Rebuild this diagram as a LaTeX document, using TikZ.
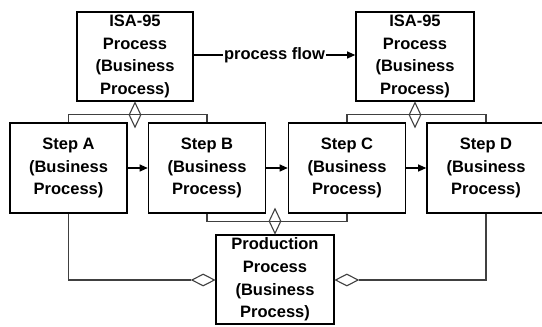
\documentclass[tikz,border=0pt]{standalone}
\usepackage{fontspec}
\setmainfont{Liberation Sans}
\usetikzlibrary{shapes.geometric,arrows.meta}
\tikzset{
  box/.style={draw=black, line width=1.6pt, fill=white, inner sep=0pt,
    minimum width=117pt, minimum height=89pt, align=center,
    font=\bfseries\fontsize{16.5}{22.7}\selectfont},
  conn/.style={draw=black!75, line width=1.1pt},
  flow/.style={draw=black, line width=1.1pt, -{Triangle[length=8pt,width=7pt]}},
  agg/.style={diamond, draw=black!75, line width=1.1pt, inner sep=0pt},
  vagg/.style={agg, minimum width=12pt, minimum height=25pt},
  hagg/.style={agg, minimum width=23pt, minimum height=12pt, fill=white},
  lbl/.style={fill=white, inner sep=1pt, font=\bfseries\fontsize{16.5}{20}\selectfont}
}
\begin{document}
\begin{tikzpicture}[x=1pt,y=1pt]
\useasboundingbox (0,0) rectangle (542,-327);
\clip (0,0) rectangle (542,-327);
% boxes
\node[box, minimum width=116pt] (isaL) at (135,-56.5) {ISA-95\\Process\\(Business\\Process)};
\node[box, minimum width=118pt] (isaR) at (415,-56.5) {ISA-95\\Process\\(Business\\Process)};
\node[box, minimum height=90pt] (A) at (68.5,-168) {Step A\\(Business\\Process)};
\node[box, minimum height=90pt] (B) at (207,-168) {Step B\\(Business\\Process)};
\node[box, minimum height=90pt] (C) at (347,-168) {Step C\\(Business\\Process)};
\node[box, minimum width=118pt, minimum height=90pt] (D) at (486,-168) {Step D\\(Business\\Process)};
\node[box, minimum width=118pt] (P) at (275,-279.5) {Production\\Process\\(Business\\Process)};
% diamonds
\node[vagg, anchor=north] (dL) at (isaL.south) {};
\node[vagg, anchor=north] (dR) at (isaR.south) {};
\node[vagg, anchor=south] (dP) at (P.north) {};
\node[hagg, anchor=east] (dPl) at (P.west |- 0,-280) {};
\node[hagg, anchor=west] (dPr) at (P.east |- 0,-280) {};
% aggregation connectors
\draw[conn] (A.north) |- (dL.center);
\draw[conn] (B.north) |- (dL.center);
\draw[conn] (C.north) |- (dR.center);
\draw[conn] (D.north) |- (dR.center);
\draw[conn] (B.south) |- (dP.center);
\draw[conn] (C.south) |- (dP.center);
\draw[conn] (A.south) |- (dPl.west);
\draw[conn] (D.south) |- (dPr.east);
% flow arrows
\draw[flow] (A.east) -- (B.west);
\draw[flow] (B.east) -- (C.west);
\draw[flow] (C.east) -- (D.west);
\draw[flow] (isaL.east |- 0,-55) -- node[lbl] {process flow} (isaR.west |- 0,-55);
\end{tikzpicture}
\end{document}
